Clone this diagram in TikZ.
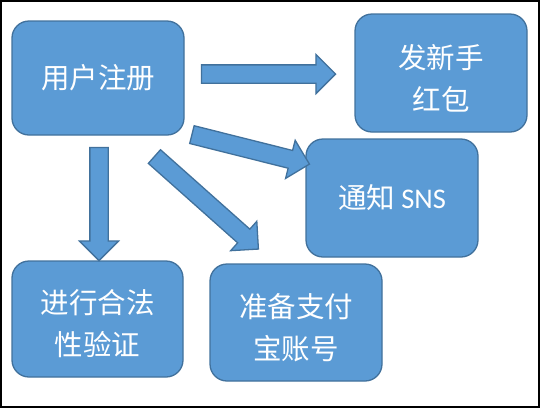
\documentclass[tikz,border=0pt]{standalone}
\usepackage{fontspec}
\newfontfamily\cjk{Noto Sans CJK SC}
\newfontfamily\calib{Carlito}
\usetikzlibrary{calc}
\usetikzlibrary{shapes.arrows}
\definecolor{boxfill}{HTML}{5B9BD5}
\definecolor{boxline}{HTML}{41719C}
\newcommand{\lowr}{\rule{0pt}{34pt}}

\begin{document}
\begin{tikzpicture}[
    x=1pt,
    y=-1pt
]
\tikzstyle{card}=[rectangle, rounded corners=17pt, draw=boxline, line width=1.3pt, fill=boxfill, text=white, font=\cjk\fontsize{28.5}{42}\selectfont, align=center, inner sep=0pt, minimum width=172pt]
\tikzstyle{fat}=[single arrow, draw=boxline, fill=boxfill, line width=1.3pt, inner xsep=0pt, inner ysep=8.5pt, single arrow head extend=10.5pt, single arrow head indent=0pt]

\useasboundingbox (0,0) rectangle (540,408);
\draw[line width=2pt] (1,1) rectangle (539,407);

% Boxes
\node[card, minimum height=114pt] (reg) at (98,78) {用户注册};
\node[card, minimum height=118pt] (hb) at (441,73) {\lowr{}发新手\\红包};
\node[card, minimum height=118pt] (sns) at (392,198) {通知 {\calib SNS}};
\node[card, minimum height=116pt, minimum width=171pt] (chk) at (97.5,319) {\lowr{}进行合法\\性验证};
\node[card, minimum height=117pt] (ali) at (296,322.5) {\lowr{}准备支付\\宝账号};

% Arrow ends
\coordinate (s1) at (197,74);   \coordinate (t1) at (331,74);
\coordinate (s2) at (187.5,133.5); \coordinate (t2) at (305,163);
\coordinate (s3) at (99,143);   \coordinate (t3) at (99,256);
\coordinate (s4) at (151,153.5); \coordinate (t4) at (255,246);

% Arrows
\foreach \i in {1,...,4}
  \path let \p1=($(t\i)-(s\i)$), \n1={atan2(\y1,\x1)}, \n2={veclen(\x1,\y1)} in
    node[fat, minimum height={\n2*1pt}, rotate=\n1] (a\i) at ($(s\i)!0.5!(t\i)$) {};

\end{tikzpicture}
\end{document}
